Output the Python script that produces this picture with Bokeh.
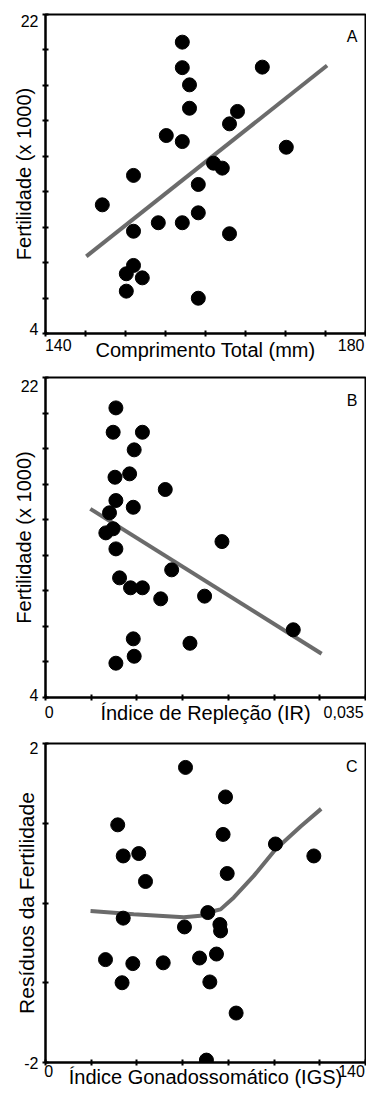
from bokeh.plotting import figure
from bokeh.models import Range1d, FixedTicker, Label, LinearAxis
from bokeh.layouts import column
from bokeh.embed import file_html
from bokeh.resources import INLINE

FONT = "Liberation Sans"

# ---------------- Panel A data ----------------
a_length = [157.1, 157.1, 158.0, 158.0, 167.1, 164.0, 163.0, 155.1, 157.1, 170.1,
            161.0, 162.1, 151.0, 159.1, 147.1, 159.1, 154.1, 157.1, 151.0, 163.0,
            151.0, 150.1, 152.1, 150.1, 159.1]
a_fert = [20.44, 19.0, 18.03, 16.71, 19.03, 16.53, 15.83, 15.17, 14.83, 14.51,
          13.61, 13.33, 12.92, 12.41, 11.26, 10.81, 10.25, 10.25, 9.77, 9.63,
          7.84, 7.37, 7.14, 6.39, 5.99]
a_fit_x = [145.1, 175.2]
a_fit_y = [8.35, 19.12]

# ---------------- Panel B data ----------------
b_ir = [0.0077, 0.0074, 0.0106, 0.0097, 0.0076, 0.0092, 0.0131, 0.0077, 0.0096, 0.0070,
        0.0066, 0.0074, 0.0193, 0.0077, 0.0081, 0.0093, 0.0106, 0.0138, 0.0126, 0.0174,
        0.0271, 0.0096, 0.0158, 0.0097, 0.0077]
b_fert = [20.29, 18.92, 18.92, 17.93, 16.39, 16.58, 15.70, 15.08, 14.70, 14.39,
          13.26, 13.49, 12.77, 12.36, 10.73, 10.17, 10.17, 11.18, 9.55, 9.70,
          7.81, 7.30, 7.05, 6.32, 5.93]
b_fit_x = [0.0049, 0.0302]
b_fit_y = [14.61, 6.46]

# ---------------- Panel C data ----------------
c_igs = [61.25, 78.75, 31.6, 77.7, 100.6, 34.0, 40.8, 117.4, 79.5, 43.75,
         71.0, 34.0, 60.8, 76.3, 76.6, 26.25, 38.2, 51.5, 67.4, 74.8,
         33.5, 71.9, 83.4, 70.4]
c_res = [1.70, 1.33, 0.98, 0.86, 0.74, 0.59, 0.62, 0.59, 0.37, 0.27,
         -0.12, -0.19, -0.30, -0.27, -0.35, -0.71, -0.76, -0.75, -0.69, -0.64,
         -1.0, -0.99, -1.38, -1.97]
c_smooth_x = [19.7, 38.6, 60.5, 67.8, 73.6, 76.6, 82.4, 91.1, 100.6, 111.6, 120.6]
c_smooth_y = [-0.10, -0.14, -0.18, -0.16, -0.10, -0.08, 0.07, 0.34, 0.67, 0.96, 1.18]

# tick marks
a_xticks = [140, 145, 150, 155, 160, 165, 170, 175, 180]
fert_yticks = [4, 6, 8, 10, 12, 14, 16, 18, 20, 22]
b_xticks = [0, 0.005, 0.01, 0.015, 0.02, 0.025, 0.03, 0.035]
c_xticks = [0, 20, 40, 60, 80, 100, 120, 140]
c_yticks = [-2, -1, 0, 1, 2]

# end tick labels: (text, where its centre sits on the axis)
a_xlabels = [("140", 141.6), ("180", 178.2)]
a_ylabels = [("4", 4.28), ("22", 21.66)]
b_xlabels = [("0", 0.0004), ("0,035", 0.0326)]
b_ylabels = [("4", 4.14), ("22", 21.55)]
c_xlabels = [("0", 1.4), ("140", 133.9)]
c_ylabels = [("-2", -2.0), ("2", 1.95)]

LINE_COLOR = "#6b6b6b"


def tick_axis(ax, ticks):
    # axis line with its tick marks, no labels
    ax.ticker = FixedTicker(ticks=ticks)
    ax.axis_line_width = 2
    ax.axis_line_color = "black"
    ax.major_tick_line_width = 2
    ax.major_tick_line_color = "black"
    ax.major_tick_in = 3
    ax.major_tick_out = 3
    ax.minor_tick_line_color = None
    ax.major_label_text_font_size = "0px"
    ax.major_label_text_alpha = 0
    ax.major_label_standoff = 0


def label_axis(p, side, labels, standoff, title, title_size, title_standoff):
    # second axis carrying the end labels and the title
    ax = LinearAxis()
    ax.ticker = FixedTicker(ticks=[pos for _, pos in labels])
    ax.major_label_overrides = {pos: t for t, pos in labels}
    ax.axis_line_color = None
    ax.major_tick_line_color = None
    ax.major_tick_in = 0
    ax.major_tick_out = 0
    ax.minor_tick_line_color = None
    ax.major_label_text_font = FONT
    ax.major_label_text_font_size = "16px"
    ax.major_label_text_color = "black"
    ax.major_label_standoff = standoff
    ax.axis_label = title
    ax.axis_label_text_font = FONT
    ax.axis_label_text_font_style = "normal"
    ax.axis_label_text_font_size = f"{title_size}px"
    ax.axis_label_text_color = "black"
    ax.axis_label_standoff = title_standoff
    p.add_layout(ax, side)


def make_fig(xr, yr, top, fh, bottom):
    p = figure(width=366, height=top + fh + bottom, frame_width=320, frame_height=fh,
               x_range=Range1d(*xr), y_range=Range1d(*yr),
               output_backend="svg", toolbar_location=None, tools="",
               min_border_left=45, min_border_right=1, min_border_top=top,
               min_border_bottom=bottom)
    p.grid.visible = False
    p.outline_line_color = "black"
    p.outline_line_width = 2
    p.background_fill_color = "white"
    p.border_fill_color = "white"
    return p


def letter(p, text, x, y, dx, dy):
    sx = (p.x_range.end - p.x_range.start) / 320
    sy = (p.y_range.end - p.y_range.start) / p.frame_height
    p.add_layout(Label(x=x + dx * sx, y=y + dy * sy, text=text,
                       text_font=FONT, text_font_size="16px",
                       text_align="right", text_baseline="alphabetic",
                       text_color="black"))


# ---------------- Figure A ----------------
pa = make_fig((140, 180), (4, 22), 14, 319, 37)
tick_axis(pa.xaxis[0], a_xticks)
tick_axis(pa.yaxis[0], fert_yticks)
label_axis(pa, "below", a_xlabels, 2, "Comprimento Total (mm)", 20, -15)
label_axis(pa, "left", a_ylabels, 4, "Fertilidade (x 1000)", 20, -17)
pa.line(a_fit_x, a_fit_y, line_color=LINE_COLOR, line_width=4)
pa.scatter(a_length, a_fert, size=14, color="black")
letter(pa, "A", 180, 22, -8, -22)

# ---------------- Figure B ----------------
pb = make_fig((0, 0.035), (4, 22), 7, 320, 43)
tick_axis(pb.xaxis[0], b_xticks)
tick_axis(pb.yaxis[0], fert_yticks)
label_axis(pb, "below", b_xlabels, 5, "Índice de Repleção (IR)", 20, -19)
label_axis(pb, "left", b_ylabels, 4, "Fertilidade (x 1000)", 20, -17)
pb.line(b_fit_x, b_fit_y, line_color=LINE_COLOR, line_width=4)
pb.scatter(b_ir, b_fert, size=14, color="black")
letter(pb, "B", 0.035, 22, -8, -23)

# ---------------- Figure C ----------------
pc = make_fig((0, 140), (-2, 2), 3, 319, 31)
tick_axis(pc.xaxis[0], c_xticks)
tick_axis(pc.yaxis[0], c_yticks)
label_axis(pc, "below", c_xlabels, -1, "Índice Gonadossomático (IGS)", 20, -14)
label_axis(pc, "left", c_ylabels, 4, "Resíduos da Fertilidade", 21, -17)
pc.line(c_smooth_x, c_smooth_y, line_color=LINE_COLOR, line_width=4)
pc.scatter(c_igs, c_res, size=14, color="black")
letter(pc, "C", 140, 2, -8, -23)

layout = column(pa, pb, pc, spacing=0)
open("out.html", "w").write(file_html(layout, INLINE))
